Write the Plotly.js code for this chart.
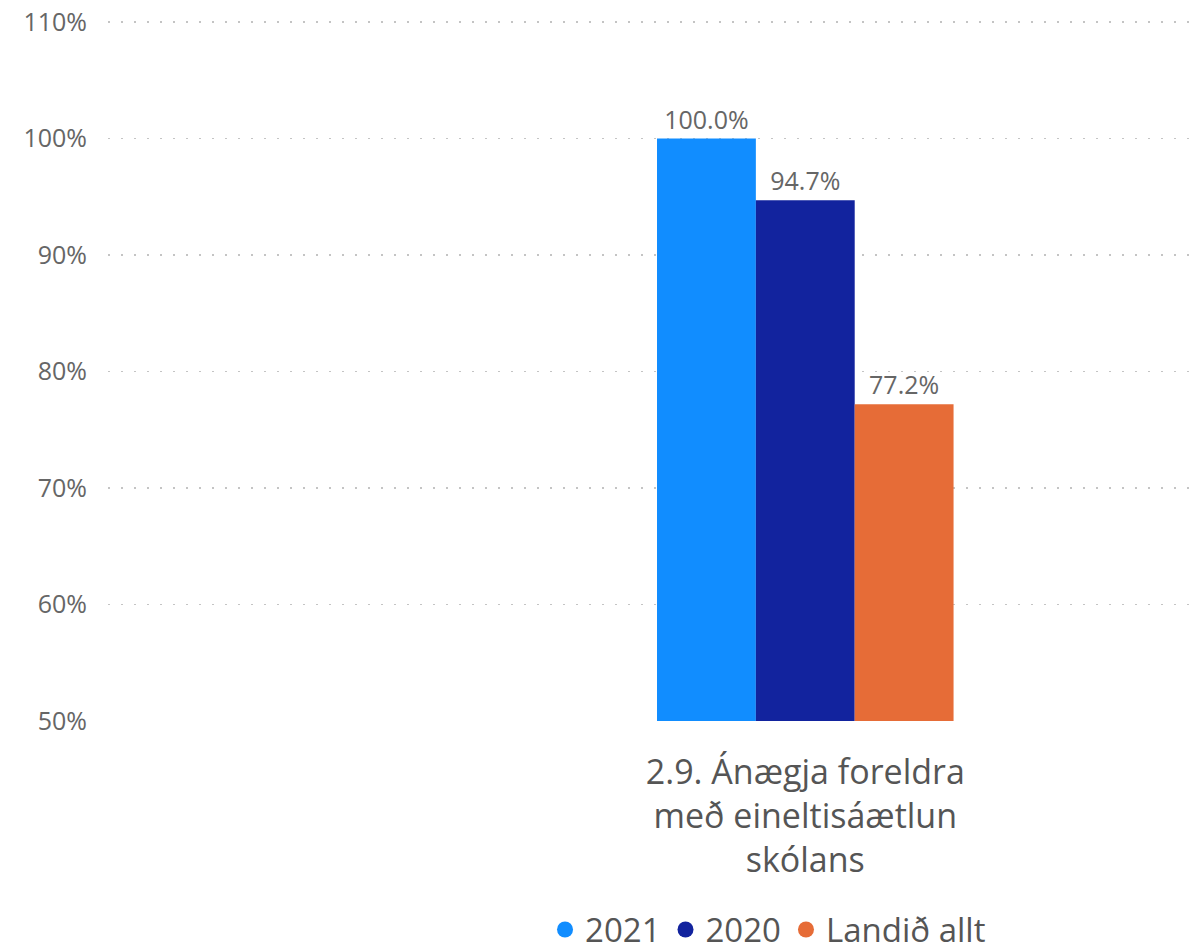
<!DOCTYPE html>
<html>
<head>
<meta charset="utf-8">
<script src="https://cdn.plot.ly/plotly-3.0.1.min.js"></script>
<style>
html,body{margin:0;padding:0;background:#fff;}
#chart{width:1191px;height:952px;}
</style>
</head>
<body>
<div id="chart"></div>
<script>
const categories = ["2.9. Ánægja foreldra<br>með eineltisáætlun<br>skólans"];
const seriesNames = ["2021", "2020", "Landið allt"];
const values2021 = [100.0];
const values2020 = [94.7];
const valuesLand = [77.2];
const colors = ["#118DFF", "#12239E", "#E66C37"];
const yTicks = [50, 60, 70, 80, 90, 100, 110];
const yTickText = ["50%", "60%", "70%", "80%", "90%", "100%", "110%"];

const allValues = [values2021, values2020, valuesLand];
const font = "'Open Sans', 'Noto Sans', sans-serif";

const traces = [];
allValues.forEach((vals, i) => {
  traces.push({
    type: "bar",
    x: categories,
    y: vals,
    name: seriesNames[i],
    marker: {color: colors[i]},
    text: vals.map(v => v.toFixed(1) + "%"),
    textposition: "outside",
    textfont: {family: font, size: 25, color: "#666666"},
    cliponaxis: false,
    showlegend: false,
    hoverinfo: "skip"
  });
});
// legend-only entries with circle symbols
allValues.forEach((vals, i) => {
  traces.push({
    type: "scatter",
    mode: "markers",
    x: [null],
    y: [null],
    name: seriesNames[i],
    marker: {color: colors[i], symbol: "circle", size: 22},
    showlegend: true
  });
});

const layout = {
  width: 1191,
  height: 952,
  margin: {l: 108, r: 1, t: 18, b: 231},
  paper_bgcolor: "#ffffff",
  plot_bgcolor: "#ffffff",
  barmode: "group",
  bargap: 0.26,
  bargroupgap: 0,
  font: {family: font, color: "#666666"},
  xaxis: {
    type: "category",
    range: [-1.74, 0.96],
    showgrid: false,
    zeroline: false,
    showline: false,
    ticks: "",
    tickfont: {family: font, size: 34, color: "#555555"},
    ticklabelstandoff: 28,
    fixedrange: true
  },
  yaxis: {
    range: [50, 110.35],
    tickvals: yTicks,
    ticktext: yTickText,
    showgrid: true,
    gridcolor: "#c4c4c4",
    griddash: "2px,11px",
    gridwidth: 1.5,
    zeroline: false,
    showline: false,
    ticks: "",
    tickfont: {family: font, size: 25, color: "#666666"},
    ticklabelstandoff: 20
  },
  showlegend: true,
  legend: {
    orientation: "h",
    x: 0.61,
    xanchor: "center",
    yref: "container",
    y: 0.053,
    yanchor: "top",
    font: {family: font, size: 33, color: "#555555"},
    itemwidth: 30,
    traceorder: "normal"
  }
};

Plotly.newPlot("chart", traces, layout, {displayModeBar: false, staticPlot: true});
</script>
</body>
</html>
